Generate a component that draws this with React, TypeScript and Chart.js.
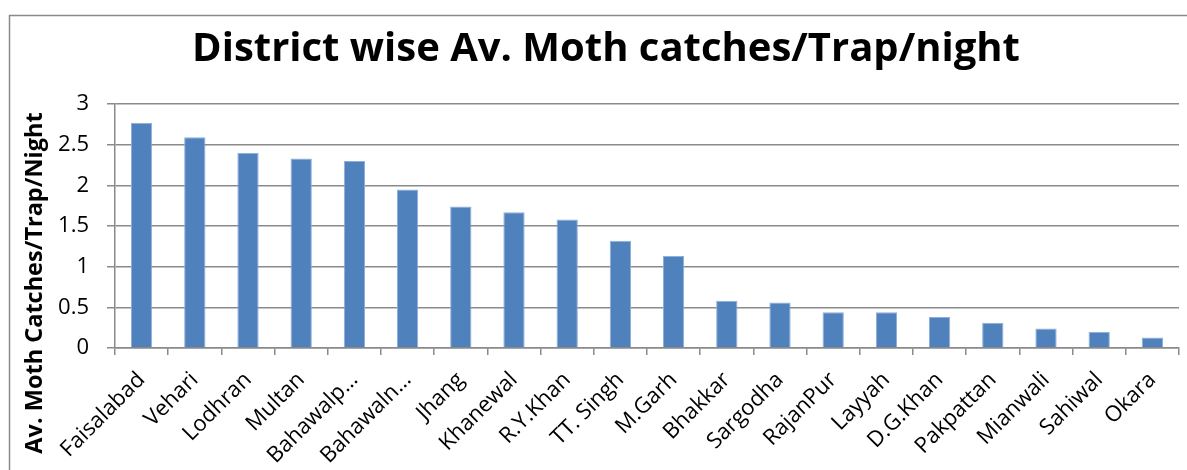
import React, { useEffect, useRef } from "react";
import { Chart, registerables } from "chart.js";

Chart.register(...registerables);

const districts = [
  "Faisalabad", "Vehari", "Lodhran", "Multan", "Bahawalp…", "Bahawaln…",
  "Jhang", "Khanewal", "R.Y.Khan", "TT. Singh", "M.Garh", "Bhakkar",
  "Sargodha", "RajanPur", "Layyah", "D.G.Khan", "Pakpattan", "Mianwali",
  "Sahiwal", "Okara",
];
const mothCatches = [
  2.77, 2.59, 2.40, 2.33, 2.30, 1.95, 1.74, 1.67, 1.58, 1.32, 1.13, 0.58,
  0.56, 0.44, 0.44, 0.38, 0.31, 0.24, 0.20, 0.13,
];
const titleText = "District wise Av. Moth catches/Trap/night";
const yAxisTitle = "Av. Moth Catches/Trap/Night";

const FONT = "'Open Sans', 'DejaVu Sans', sans-serif";
const GRID = "#8a8a8a";

const outerBorder = {
  id: "outerBorder",
  afterDraw(chart: any) {
    const ctx = chart.ctx;
    ctx.save();
    ctx.strokeStyle = "#8a8a8a";
    ctx.lineWidth = 1.5;
    ctx.strokeRect(9.5, 15.5, 3000, 3000);
    ctx.restore();
  },
};

const yTitlePlugin = {
  id: "yTitlePlugin",
  afterDraw(chart: any) {
    const ctx = chart.ctx;
    ctx.save();
    ctx.translate(35, 283);
    ctx.rotate(-Math.PI / 2);
    ctx.font = `bold 23.5px ${FONT}`;
    ctx.fillStyle = "#000";
    ctx.textAlign = "center";
    ctx.textBaseline = "middle";
    ctx.fillText(yAxisTitle, 0, 0);
    ctx.restore();
  },
};

export default function App() {
  const ref = useRef<HTMLCanvasElement | null>(null);
  useEffect(() => {
    if (!ref.current) return;
    const chart = new Chart(ref.current, {
      type: "bar",
      data: {
        labels: districts,
        datasets: [
          {
            data: mothCatches,
            backgroundColor: "#4F81BD",
            borderColor: "#8eaedb",
            borderWidth: 1,
            barPercentage: 0.4,
            categoryPercentage: 1,
          },
        ],
      },
      options: {
        animation: false,
        responsive: false,
        maintainAspectRatio: false,
        layout: { padding: { left: 33, right: 8, top: 0, bottom: 0 } },
        plugins: {
          legend: { display: false },
          tooltip: { enabled: false },
          title: {
            display: true,
            text: titleText,
            color: "#000",
            font: { family: FONT, size: 40, weight: "bold" },
            padding: { top: 26, bottom: 30 },
          },
        },
        scales: {
          x: {
            offset: true,
            afterFit: (scale: any) => {
              scale.height = 122;
            },
            grid: {
              offset: true,
              drawOnChartArea: false,
              drawTicks: true,
              tickLength: 7,
              color: GRID,
              lineWidth: 1.5,
            },
            border: { color: GRID, width: 1.5 },
            ticks: {
              color: "#000",
              font: { family: FONT, size: 22 },
              minRotation: 45,
              maxRotation: 45,
              autoSkip: false,
              padding: 12,
            },
          },
          y: {
            min: 0,
            max: 3,
            afterFit: (scale: any) => {
              scale.width = 82;
            },
            grid: {
              color: GRID,
              lineWidth: 1.5,
              tickLength: 8,
            },
            border: { color: GRID, width: 1.5 },
            ticks: {
              stepSize: 0.5,
              color: "#000",
              font: { family: FONT, size: 22 },
              padding: 18,
              callback: (v: any) => String(v),
            },
          },
        },
      },
      plugins: [outerBorder, yTitlePlugin],
    });
    return () => chart.destroy();
  }, []);
  return (
    <div style={{ position: "fixed", left: 0, top: 0, width: 1187, height: 470, overflow: "hidden", background: "#fff" }}>
      <canvas ref={ref} width={1187} height={470} style={{ display: "block", width: 1187, height: 470 }} />
    </div>
  );
}
